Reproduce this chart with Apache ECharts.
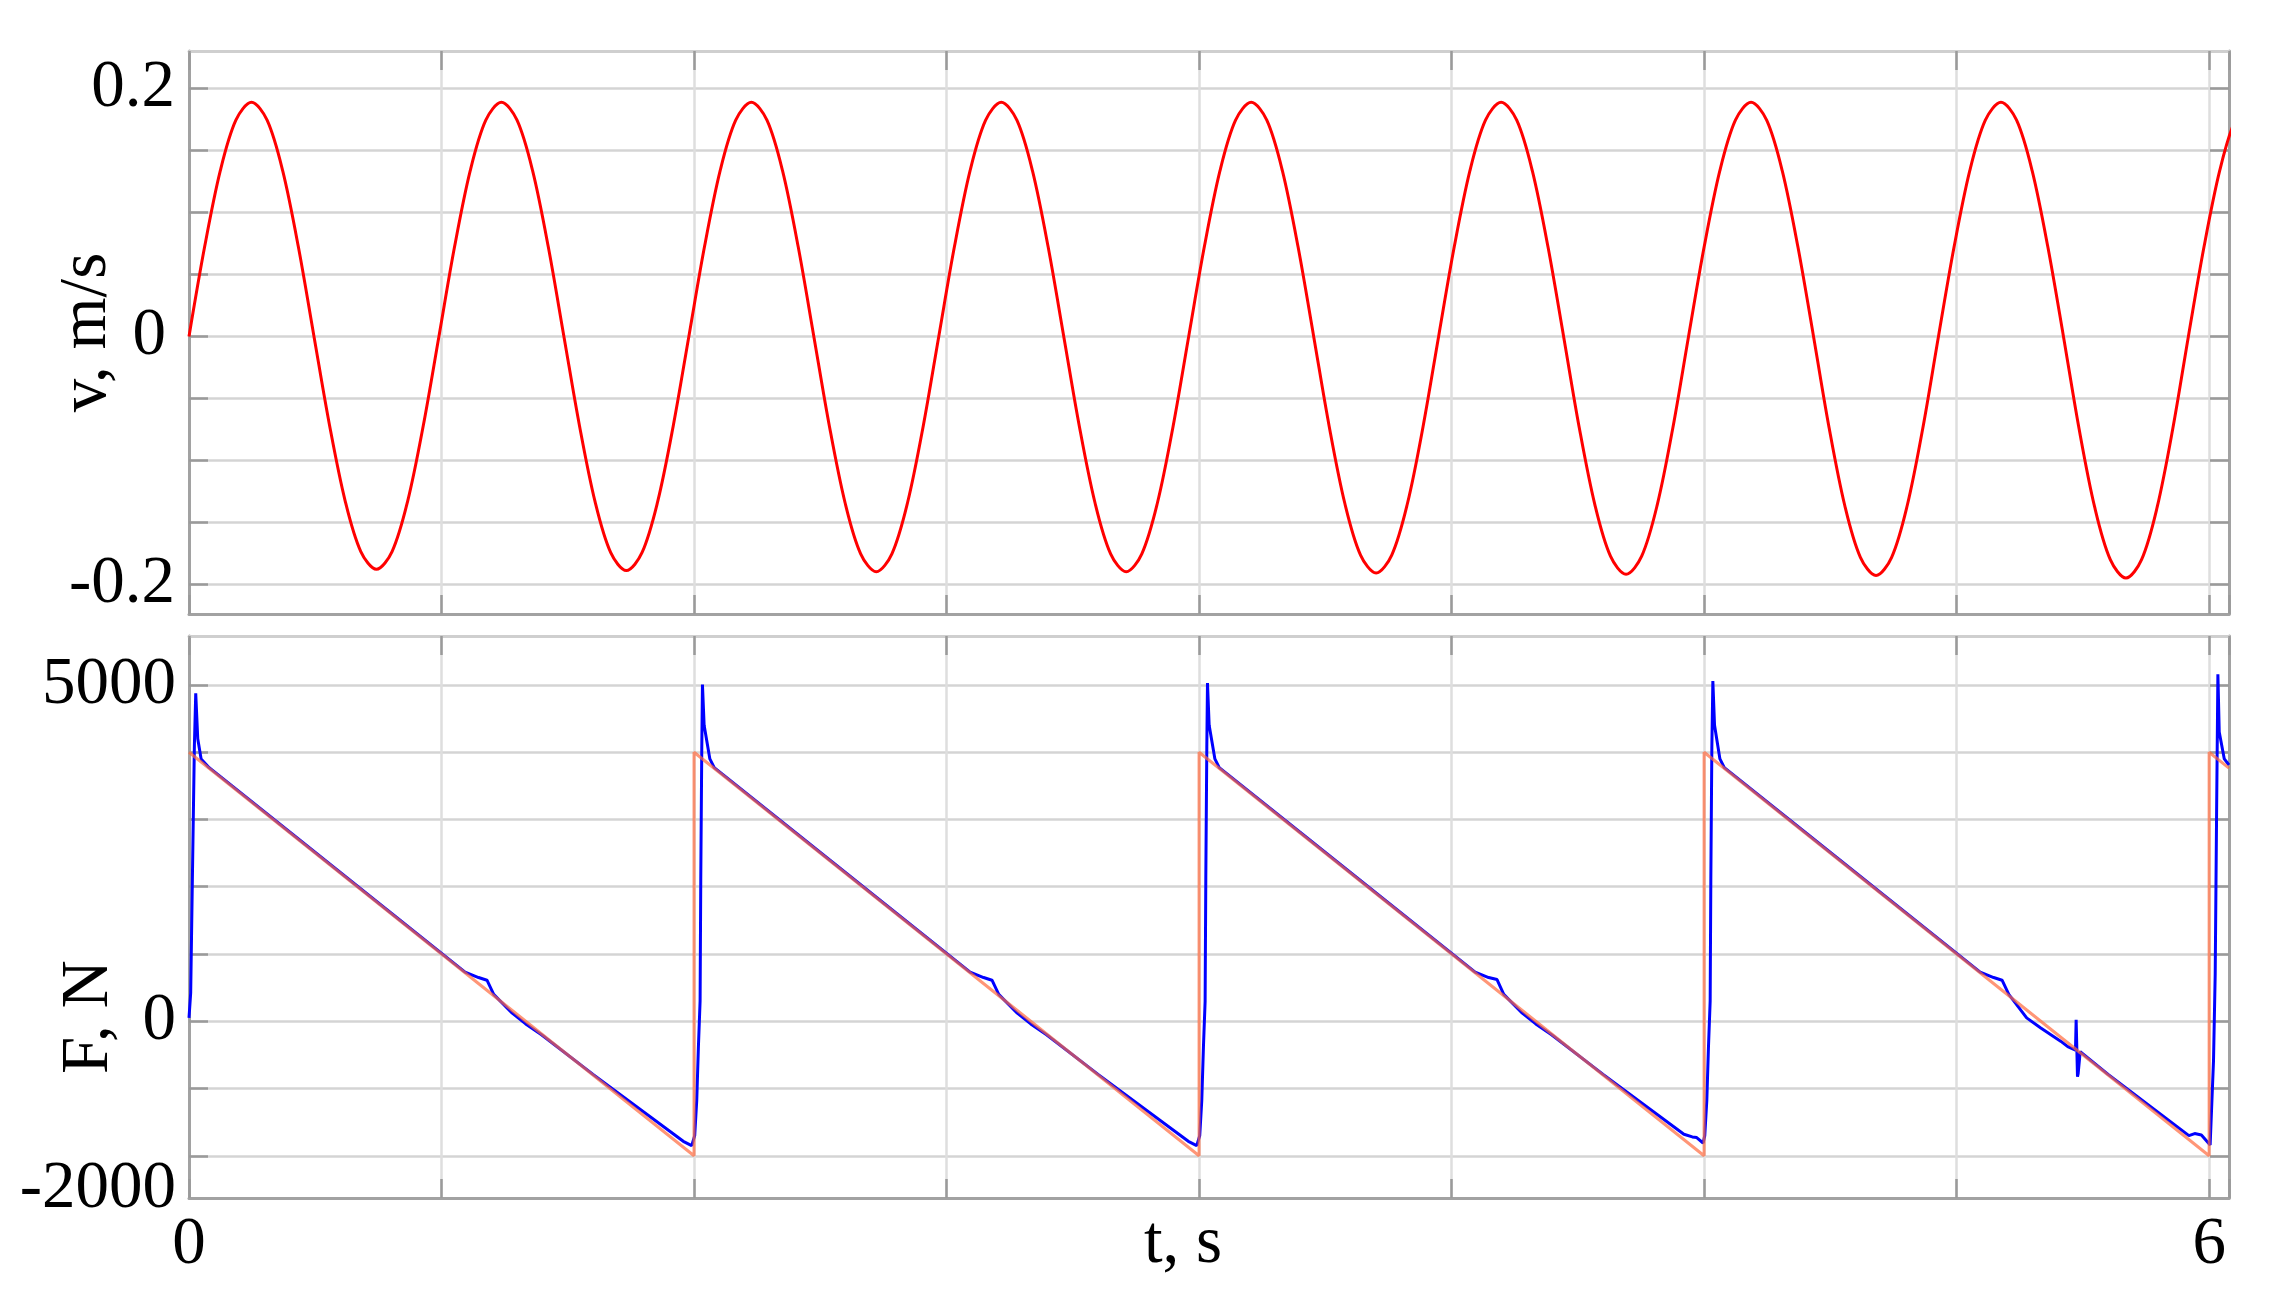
<!DOCTYPE html>
<html><head><meta charset="utf-8">
<script src="https://cdn.jsdelivr.net/npm/echarts@6/dist/echarts.min.js"></script>
<style>html,body{margin:0;padding:0;background:#fff}#c{width:2274px;height:1292px}</style>
</head><body><div id="c"></div>
<script>
// ---- data ----
const vTime = [0,0.0464,0.0928,0.1392,0.1856,0.2320,0.2784,0.3248,0.3712,0.4175,0.4639,0.5103,0.5567,0.6031,0.6495,0.6959,
0.7423,0.7887,0.8351,0.8815,0.9279,0.9743,1.0207,1.0671,1.1135,1.1599,1.2062,1.2526,1.2990,1.3454,1.3918,1.4382,
1.4846,1.5310,1.5774,1.6238,1.6702,1.7166,1.7630,1.8094,1.8558,1.9022,1.9486,1.9949,2.0413,2.0877,2.1341,2.1805,
2.2269,2.2733,2.3197,2.3661,2.4125,2.4589,2.5053,2.5517,2.5981,2.6445,2.6909,2.7373,2.7836,2.8300,2.8764,2.9228,
2.9692,3.0156,3.0620,3.1084,3.1548,3.2012,3.2476,3.2940,3.3404,3.3868,3.4332,3.4796,3.5259,3.5723,3.6187,3.6651,
3.7115,3.7579,3.8043,3.8507,3.8971,3.9435,3.9899,4.0363,4.0827,4.1291,4.1755,4.2219,4.2682,4.3146,4.3610,4.4074,
4.4538,4.5002,4.5466,4.5930,4.6394,4.6858,4.7322,4.7786,4.8250,4.8714,4.9178,4.9642,5.0106,5.0570,5.1033,5.1497,
5.1961,5.2425,5.2889,5.3353,5.3817,5.4281,5.4745,5.5209,5.5673,5.6137,5.6601,5.7065,5.7529,5.7993,5.8456,5.8920,
5.9384,5.9848,6.0312,6.0776,6.1240];
const vValue = [0,0.0723,0.1336,0.1746,0.189,0.1746,0.1336,0.0723,0,-0.0719,-0.1329,-0.1737,-0.188,-0.1737,-0.1329,-0.0719,
0,0.0723,0.1336,0.1746,0.189,0.1746,0.1336,0.0723,0,-0.0723,-0.1336,-0.1746,-0.189,-0.1746,-0.1336,-0.0723,
0,0.0723,0.1336,0.1746,0.189,0.1746,0.1336,0.0723,0,-0.0727,-0.1343,-0.1755,-0.190,-0.1755,-0.1343,-0.0727,
0,0.0723,0.1336,0.1746,0.189,0.1746,0.1336,0.0723,0,-0.0727,-0.1343,-0.1755,-0.190,-0.1755,-0.1343,-0.0727,
0,0.0723,0.1336,0.1746,0.189,0.1746,0.1336,0.0723,0,-0.0731,-0.1351,-0.1765,-0.191,-0.1765,-0.1351,-0.0731,
0,0.0723,0.1336,0.1746,0.189,0.1746,0.1336,0.0723,0,-0.0735,-0.1358,-0.1774,-0.192,-0.1774,-0.1358,-0.0735,
0,0.0723,0.1336,0.1746,0.189,0.1746,0.1336,0.0723,0,-0.0739,-0.1365,-0.1783,-0.193,-0.1783,-0.1365,-0.0739,
0,0.0723,0.1336,0.1746,0.189,0.1746,0.1336,0.0723,0,-0.0746,-0.1379,-0.1802,-0.195,-0.1802,-0.1379,-0.0746,
0,0.0723,0.1336,0.1746,0.189];

const forceRef = [[0,4000],[1.5,-2000],[1.5,4000],[3,-2000],[3,4000],[4.5,-2000],[4.5,4000],[6,-2000],[6,4000],[6.059,3764]];

const forceMeas = [
[0,50],[0.005,420],[0.01,2100],[0.016,4100],[0.02,4876],[0.026,4200],[0.036,3900],[0.06,3770],
[0.3,2810],[0.6,1610],[0.82,730],[0.86,650],[0.885,610],[0.905,400],[0.96,120],[1.0,-40],[1.047,-200],
[1.2,-790],[1.44,-1680],[1.468,-1785],[1.493,-1850],
[1.502,-1700],[1.508,-1180],[1.513,-380],[1.518,300],[1.52,2120],[1.523,4070],[1.525,5005],[1.53,4400],[1.547,3900],[1.56,3770],
[1.8,2810],[2.1,1610],[2.32,730],[2.36,650],[2.385,610],[2.405,400],[2.46,120],[2.5,-40],[2.547,-200],
[2.7,-790],[2.94,-1680],[2.968,-1785],[2.993,-1850],
[3.002,-1700],[3.008,-1180],[3.013,-380],[3.018,300],[3.02,2120],[3.023,4070],[3.025,5030],[3.03,4400],[3.047,3900],[3.06,3770],
[3.3,2810],[3.6,1610],[3.82,730],[3.86,650],[3.885,620],[3.905,400],[3.96,120],[4.0,-40],[4.047,-200],
[4.2,-790],[4.44,-1680],[4.465,-1720],[4.478,-1730],[4.497,-1810],
[4.502,-1700],[4.508,-1180],[4.513,-380],[4.518,300],[4.52,2120],[4.523,4070],[4.526,5058],[4.531,4400],[4.547,3900],[4.56,3770],
[4.8,2810],[5.1,1610],[5.32,730],[5.36,650],[5.385,610],[5.405,400],[5.458,50],[5.5,-100],[5.56,-300],[5.58,-377],
[5.603,-430],[5.605,20],[5.607,0],[5.609,-823],[5.611,-780],[5.617,-452],[5.7,-790],
[5.94,-1700],[5.957,-1670],[5.977,-1690],[6.003,-1840],
[6.013,-585],[6.018,700],[6.022,3000],[6.026,5158],[6.03,4300],[6.045,3900],[6.059,3810]];

const vTicks = [-0.2,-0.15,-0.1,-0.05,0,0.05,0.1,0.15,0.2];
const vLabels = [-0.2,0,0.2];
const fTicks = [-2000,-1000,0,1000,2000,3000,4000,5000];
const fLabels = [-2000,0,5000];
const tLabels = [0,6];

// ---- styling ----
const FONT = 'Liberation Serif, "Times New Roman", serif';
const FS = 67;
const gridColor = '#d4d4d4';
const vGridColor = '#dedede';
const axisDark = '#a2a2a2';
const axisLight = '#cfcfcf';
const tick = {show:true, inside:true, length:19, lineStyle:{color:'#9a9a9a', width:2.5}};

function xAx(grid, pos, opts) {
  return Object.assign({
    type:'value', gridIndex:grid, position:pos, min:0, max:6.059, interval:0.75,
    axisLine:{show:true, onZero:false, lineStyle:{color: pos==='top'?axisLight:axisDark, width:3}},
    axisTick:tick,
    axisLabel:{show:false},
    splitLine:{show: pos==='bottom', lineStyle:{color:vGridColor, width:2.5}}
  }, opts||{});
}
function yAx(grid, pos, min, max, ticks, opts) {
  return Object.assign({
    type:'value', gridIndex:grid, position:pos, min:min, max:max,
    axisLine:{show:true, onZero:false, lineStyle:{color:axisDark, width:3}},
    axisTick:Object.assign({customValues:ticks}, tick),
    axisLabel:{show:false},
    splitLine:{show: pos==='left', lineStyle:{color:gridColor, width:2.5}}
  }, opts||{});
}
const lblStyle = {fontFamily:FONT, fontSize:FS, color:'#000'};

const option = {
  animation:false,
  backgroundColor:'#fff',
  grid:[
    {left:189, right:45, top:51, height:563, containLabel:false, outerBoundsMode:'none'},
    {left:189, right:45, top:636, height:562, containLabel:false, outerBoundsMode:'none'}
  ],
  xAxis:[
    xAx(0,'bottom'),
    xAx(0,'top'),
    xAx(1,'bottom',{
      name:'t, s', nameLocation:'middle', nameGap:13, nameMoveOverlap:false,
      nameTextStyle:Object.assign({padding:[0,52,0,0]}, lblStyle),
      axisLabel:Object.assign({show:true, customValues:tLabels, margin:14}, lblStyle)
    }),
    xAx(1,'top')
  ],
  yAxis:[
    yAx(0,'left',-0.2241,0.2304,vTicks,{
      name:'v, m/s', nameLocation:'middle', nameGap:68, nameMoveOverlap:false,
      nameTextStyle:Object.assign({}, lblStyle),
      axisLabel:Object.assign({show:true, customValues:vLabels, margin:14,
        formatter:function(v){ return v===0 ? '{z|0}' : String(v); },
        rich:{z:Object.assign({padding:[0,9,0,0]}, lblStyle)}
      }, lblStyle)
    }),
    yAx(0,'right',-0.2241,0.2304,vTicks),
    yAx(1,'left',-2628,5728,fTicks,{
      name:'F, N', nameLocation:'middle', nameGap:66, nameMoveOverlap:false,
      nameTextStyle:Object.assign({padding:[0,200,0,0]}, lblStyle),
      axisLabel:Object.assign({show:true, customValues:fLabels, margin:13,
        formatter:function(v){ return v===-2000 ? '{low|-2000}' : String(v); },
        rich:{low:Object.assign({padding:[68,0,0,0]}, lblStyle)}
      }, lblStyle)
    }),
    yAx(1,'right',-2628,5728,fTicks)
  ],
  series:[
    {type:'line', xAxisIndex:0, yAxisIndex:0, showSymbol:false, smooth:0.33,
     data:vTime.map(function(t,i){return [t, vValue[i]];}),
     lineStyle:{color:'#ff0000', width:3}, z:3},
    {type:'line', xAxisIndex:2, yAxisIndex:2, showSymbol:false,
     data:forceMeas, lineStyle:{color:'#0000ff', width:3}, z:3},
    {type:'line', xAxisIndex:2, yAxisIndex:2, showSymbol:false,
     data:forceRef, lineStyle:{color:'#ff6a3d', width:3, opacity:0.7}, z:4}
  ]
};
const chart = echarts.init(document.getElementById('c'), null, {renderer:'canvas'});
chart.setOption(option);
</script></body></html>
